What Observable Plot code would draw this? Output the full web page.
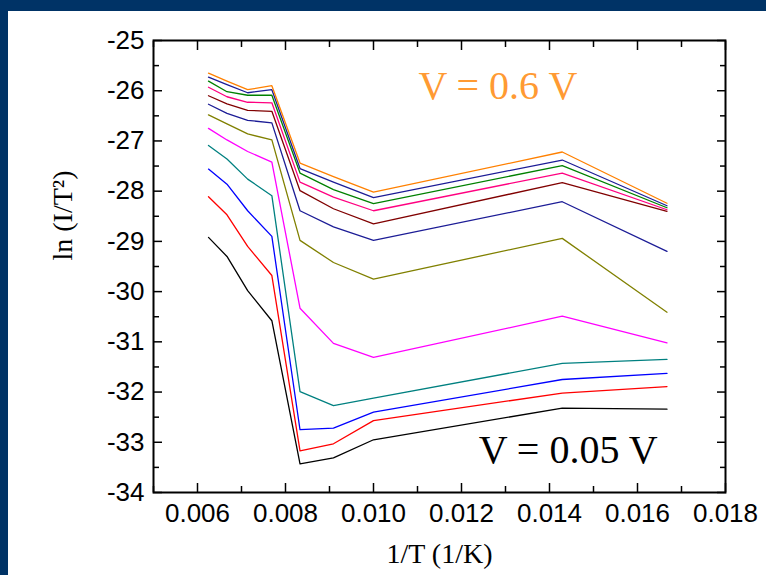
<!DOCTYPE html>
<html>
<head>
<meta charset="utf-8">
<script src="https://cdn.jsdelivr.net/npm/d3@7"></script>
<script src="https://cdn.jsdelivr.net/npm/@observablehq/plot@0.6"></script>
<style>
  html, body { margin: 0; padding: 0; width: 766px; height: 575px; overflow: hidden; background: #003366; }
  #panel { position: absolute; left: 8px; top: 11px; right: 0; bottom: 0; background: #ffffff; }
  #chart { position: absolute; left: 0; top: 0; }
  #chart svg { background: transparent; overflow: visible; }
</style>
</head>
<body>
<div id="panel"></div>
<div id="chart"></div>
<script>
// Inverse temperature (1/K) for T = 160, 150, 140, 130, 120, 110, 100, 70, 60 K
const inverseT = [0.00625, 0.00667, 0.00714, 0.00769, 0.00833, 0.00909, 0.01000, 0.01429, 0.01667];

// Bias voltage of each curve (V)
const voltages = [0.05, 0.10, 0.15, 0.20, 0.25, 0.30, 0.35, 0.40, 0.45, 0.50, 0.55, 0.60];

// ln(I/T^2) at each inverse temperature, one list per bias
const lnV005 = [-28.92, -29.30, -29.98, -30.58, -33.43, -33.31, -32.95, -32.32, -32.34];
const lnV010 = [-28.11, -28.47, -29.10, -29.68, -33.17, -33.03, -32.57, -32.02, -31.89];
const lnV015 = [-27.56, -27.86, -28.39, -28.90, -32.75, -32.72, -32.40, -31.75, -31.63];
const lnV020 = [-27.09, -27.36, -27.76, -28.09, -31.99, -32.27, -32.12, -31.43, -31.35];
const lnV025 = [-26.75, -26.98, -27.21, -27.42, -30.33, -31.03, -31.31, -30.49, -31.02];
const lnV030 = [-26.48, -26.66, -26.86, -26.98, -28.98, -29.42, -29.75, -28.94, -30.41];
const lnV035 = [-26.27, -26.45, -26.59, -26.64, -28.39, -28.71, -28.98, -28.21, -29.20];
const lnV040 = [-26.10, -26.26, -26.39, -26.41, -27.99, -28.35, -28.65, -27.83, -28.40];
const lnV045 = [-25.93, -26.12, -26.23, -26.24, -27.82, -28.12, -28.39, -27.64, -28.37];
const lnV050 = [-25.81, -26.02, -26.09, -26.09, -27.64, -27.97, -28.25, -27.49, -28.33];
const lnV055 = [-25.73, -25.88, -26.04, -25.98, -27.55, -27.82, -28.13, -27.38, -28.29];
const lnV060 = [-25.65, -25.81, -25.98, -25.90, -27.44, -27.71, -28.02, -27.22, -28.24];

const seriesValues = [lnV005, lnV010, lnV015, lnV020, lnV025, lnV030,
                      lnV035, lnV040, lnV045, lnV050, lnV055, lnV060];

// Axis ticks
const xMajorTicks = [0.006, 0.008, 0.010, 0.012, 0.014, 0.016, 0.018];
const xMinorTicks = [0.005, 0.007, 0.009, 0.011, 0.013, 0.015, 0.017];
const yMajorTicks = [-34, -33, -32, -31, -30, -29, -28, -27, -26, -25];
const yMinorTicks = [-33.5, -32.5, -31.5, -30.5, -29.5, -28.5, -27.5, -26.5, -25.5];

// Curve colours, lowest bias first
const curveColors = ["#000000", "#ff0000", "#0000ff", "#008080", "#ff00ff", "#808000",
                     "#1c1c96", "#800000", "#ff0080", "#008000", "#1c1c96", "#ff8000"];

// Long table for the line marks
const rows = voltages.flatMap((v, i) =>
  inverseT.map((x, j) => ({invT: x, lnI: seriesValues[i][j], V: v}))
);

const sans = "'Liberation Sans', Arial, sans-serif";
const serif = "'Liberation Serif', 'Times New Roman', serif";

const chart = Plot.plot({
  width: 766,
  height: 575,
  marginLeft: 153,
  marginRight: 41,
  marginTop: 40,
  marginBottom: 83,
  style: {background: "transparent"},
  x: {domain: [0.005, 0.018], axis: null},
  y: {domain: [-34, -25], axis: null},
  color: {domain: voltages, range: curveColors},
  marks: [
    Plot.line(rows, {x: "invT", y: "lnI", z: "V", stroke: "V", strokeWidth: 1.3}),

    // tick labels
    Plot.axisX({anchor: "bottom", ticks: xMajorTicks, tickSize: 0, tickPadding: 11,
                tickFormat: d3.format(".3f"), fontSize: 26, fontFamily: sans, fill: "#000", label: null}),
    Plot.axisY({anchor: "left", ticks: yMajorTicks, tickSize: 0, tickPadding: 9,
                tickFormat: d => d3.format("d")(d).replace("−", "-"), fontSize: 26, fontFamily: sans, fill: "#000", label: null}),

    // inward ticks on all four sides
    Plot.axisX({anchor: "bottom", ticks: xMajorTicks, tickSize: -9, text: null, label: null, strokeWidth: 1.5}),
    Plot.axisX({anchor: "bottom", ticks: xMinorTicks, tickSize: -6, text: null, label: null, strokeWidth: 1.5}),
    Plot.axisX({anchor: "top", ticks: xMajorTicks, tickSize: -9, text: null, label: null, strokeWidth: 1.5}),
    Plot.axisX({anchor: "top", ticks: xMinorTicks, tickSize: -6, text: null, label: null, strokeWidth: 1.5}),
    Plot.axisY({anchor: "left", ticks: yMajorTicks, tickSize: -9, text: null, label: null, strokeWidth: 1.5}),
    Plot.axisY({anchor: "left", ticks: yMinorTicks, tickSize: -6, text: null, label: null, strokeWidth: 1.5}),
    Plot.axisY({anchor: "right", ticks: yMajorTicks, tickSize: -9, text: null, label: null, strokeWidth: 1.5}),
    Plot.axisY({anchor: "right", ticks: yMinorTicks, tickSize: -6, text: null, label: null, strokeWidth: 1.5}),

    Plot.frame({stroke: "#000", strokeWidth: 2}),

    // axis titles
    Plot.text(["1/T (1/K)"], {text: d => d, frameAnchor: "bottom", dy: 70,
                              fontFamily: serif, fontSize: 28, fill: "#000"}),
    Plot.text(["ln (I/T²)"], {text: d => d, frameAnchor: "left", dx: -90, dy: -6, rotate: -90,
                              fontFamily: serif, fontSize: 28, fill: "#000"}),

    // bias annotations
    Plot.text(["V = 0.6 V"], {text: d => d, x: 0.01102, y: -26.155, textAnchor: "start", lineAnchor: "bottom",
                              fontFamily: serif, fontSize: 40, fill: "#ff9a33"}),
    Plot.text(["V = 0.05 V"], {text: d => d, x: 0.01239, y: -33.41, textAnchor: "start", lineAnchor: "bottom",
                               fontFamily: serif, fontSize: 40, fill: "#000"})
  ]
});

document.getElementById("chart").appendChild(chart);
</script>
</body>
</html>
